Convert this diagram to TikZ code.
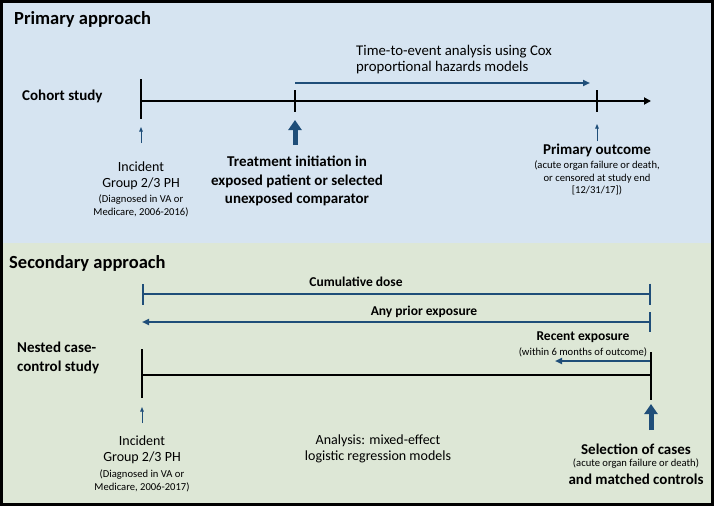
\documentclass[tikz,border=0pt]{standalone}
\usepackage{fontspec}
\setmainfont{Carlito}
\usepackage{tikz}
\usetikzlibrary{ arrows.meta, positioning }
\definecolor{panelblue}{RGB}{214,228,241}
\definecolor{panelgreen}{RGB}{221,231,214}
\definecolor{darkblue}{RGB}{31,78,121}
\tikzset{
every node/.style={inner sep=1pt},
heading/.style={font=\fontsize{18.5}{22}\selectfont\bfseries, anchor=west}, % panel titles
boldlabel/.style={font=\fontsize{15}{18.5}\selectfont\bfseries, align=center},
spanlabel/.style={font=\fontsize{13.5}{16}\selectfont\bfseries, align=center}, % labels over the windows
plainlabel/.style={font=\fontsize{14}{16}\selectfont, align=center},
note/.style={font=\fontsize{10.6}{12.8}\selectfont, align=center}, % small bracketed text
timeline/.style={line width=2.2pt, black},
span/.style={line width=2pt, darkblue}, % blue exposure windows
thinup/.style={line width=0.9pt, darkblue, -{Triangle[width=3.5pt,length=4.5pt]}},
thickup/.style={line width=5pt, darkblue, -{Triangle[width=13pt,length=10pt]}},
}

\begin{document}
\begin{tikzpicture}[x=1pt, y=-1pt]%one unit is one pixel of the layout
  \useasboundingbox (0,0) rectangle (714,506);
  \fill[panelblue] (0,0) rectangle (714,243);
  \fill[panelgreen] (0,243) rectangle (714,506);
  \draw[line width=3pt] (1.5,1.5) rectangle (712.5,504.5);

  % Primary approach
  \node[heading] (prim) at (13,19) {Primary approach};
  \node[boldlabel, anchor=west] (cohort) at (21,96) {Cohort study};

  \coordinate (t0) at (141,101);
  \coordinate (t1) at (295,101);
  \coordinate (t2) at (597,101);
  \coordinate (tend) at (651,101);
  \draw[timeline, -{Triangle[width=7pt,length=7pt]}] (t0) -- (tend);
  \draw[timeline] ([yshift=22pt]t0) -- ([yshift=-18pt]t0);
  \draw[timeline] ([yshift=11pt]t1) -- ([yshift=-11pt]t1);
  \draw[timeline] ([yshift=11pt]t2) -- ([yshift=-11pt]t2);

  \coordinate (ev0) at (295,83);
  \coordinate (ev1) at (590,83);
  \draw[span, -{Triangle[width=6pt,length=7pt]}] (ev0) -- (ev1);
  \node[plainlabel, font=\fontsize{14.8}{16}\selectfont, align=left, anchor=west] (cox) at (355,60)
    {Time-to-event analysis using Cox\\proportional hazards models};

  \node[plainlabel] (inc1) at (141,176) {Incident\\Group 2/3 PH};
  \node[note] (inc1n) at (141,206) {(Diagnosed in VA or\\Medicare, 2006-2016)};
  \node[boldlabel] (treat) at (297,181)
    {Treatment initiation in\\exposed patient or selected\\unexposed comparator};
  \node[boldlabel] (outc) at (597,150) {Primary outcome};
  \node[note] (outcn) at (597,178)
    {(acute organ failure or death,\\or censored at study end\\{[}12/31/17{]})};

  \draw[thinup] ([yshift=-42pt]t0) -- ([yshift=-26pt]t0);
  \draw[thickup] ([yshift=-44pt]t1) -- ([yshift=-19pt]t1);
  \draw[thinup] ([yshift=-40pt]t2) -- ([yshift=-23pt]t2);

  % Secondary approach
  \node[heading] (sec) at (8,263) {Secondary approach};
  \node[boldlabel, align=left, anchor=west] (nested) at (16,358)
    {Nested case-\\control study};

  \coordinate (cd0) at (142,294);
  \coordinate (cd1) at (651,294);
  \draw[span, {Bar[width=21pt]}-{Bar[width=21pt]}] (cd0) -- (cd1);
  \node[spanlabel] (cdose) at (356,282) {Cumulative dose};

  \coordinate (ap0) at (142,322);
  \coordinate (ap1) at (651,322);
  \draw[span, {Bar[width=20pt]}-{Triangle[width=6pt,length=7pt]}] (ap1) -- (ap0);
  \node[spanlabel] (anyp) at (424,312) {Any prior exposure};

  \coordinate (re0) at (651,361);
  \coordinate (re1) at (555,361);
  \draw[span, -{Triangle[width=6pt,length=7pt]}] (re0) -- (re1);
  \node[spanlabel] (recent) at (583,337) {Recent exposure};
  \node[note] (recentn) at (583,352) {(within 6 months of outcome)};

  \coordinate (b0) at (142,375);
  \coordinate (b1) at (651,375);
  \draw[timeline] (b0) -- (b1);
  \draw[timeline] ([yshift=26pt]b0) -- ([yshift=-23pt]b0);
  \draw[timeline] ([yshift=23pt]b1) -- ([yshift=-25pt]b1);

  \draw[thinup] ([yshift=-48pt]b0) -- ([yshift=-32pt]b0);
  \draw[thickup] ([yshift=-55pt]b1) -- ([yshift=-29pt]b1);

  \node[plainlabel] (inc2) at (142,450) {Incident\\Group 2/3 PH};
  \node[note] (inc2n) at (142,481) {(Diagnosed in VA or\\Medicare, 2006-2017)};
  \node[plainlabel] (anal) at (378,449) {Analysis: mixed-effect\\logistic regression models};
  \node[boldlabel] (selc) at (636,449) {Selection of cases};
  \node[note] (selcn) at (636,463.5) {(acute organ failure or death)};
  \node[boldlabel] (match) at (636,479) {and matched controls};
\end{tikzpicture}
\end{document}
